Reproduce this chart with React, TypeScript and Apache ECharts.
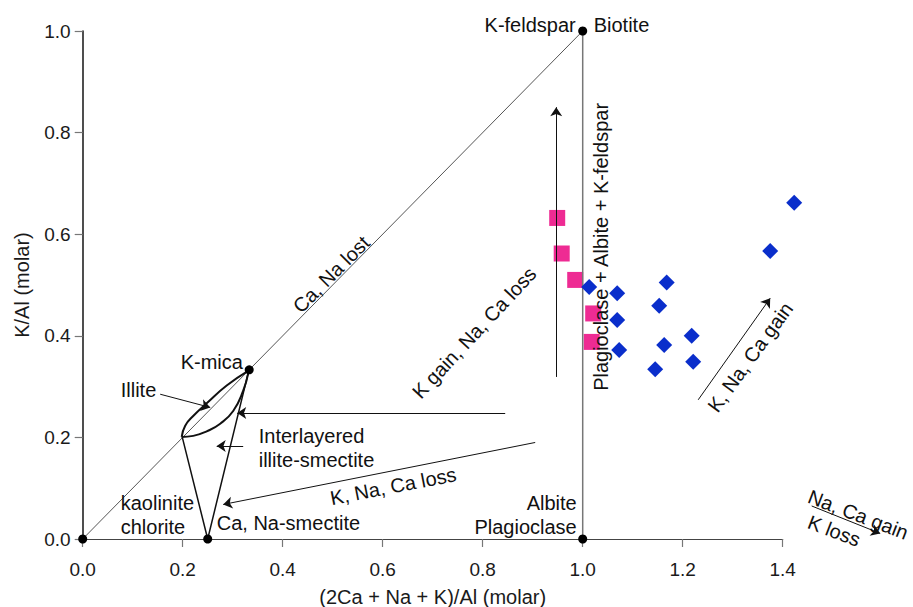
import React, { useEffect, useRef } from "react";
import * as echarts from "echarts";

// ---------- data ----------
const xAxisName = "(2Ca + Na + K)/Al (molar)";
const yAxisName = "K/Al (molar)";
const xTickStep = 0.2;
const yTickStep = 0.2;

// samples (pink squares)
const pinkX = [0.949, 0.958, 0.985, 1.021, 1.018];
const pinkY = [0.632, 0.562, 0.51, 0.444, 0.388];

// samples (blue diamonds)
const blueX = [1.423, 1.375, 1.013, 1.069, 1.168, 1.153, 1.069, 1.218, 1.163, 1.073, 1.221, 1.145];
const blueY = [0.662, 0.567, 0.496, 0.484, 0.505, 0.459, 0.431, 0.4, 0.382, 0.372, 0.349, 0.334];

// mineral end-members (black dots)
const mineralX = [0, 0.25, 1, 1, 0.333];
const mineralY = [0, 0, 0, 1, 0.333];

// reference lines
const diagonalX = [0, 1];
const diagonalY = [0, 1];
const boundaryX = [1, 1];
const boundaryY = [0, 1];
const triangleX = [0.199, 0.25, 0.332];
const triangleY = [0.201, 0, 0.331];
const lensUpperX = [0.198, 0.205, 0.221, 0.248, 0.288, 0.331];
const lensUpperY = [0.201, 0.223, 0.242, 0.267, 0.302, 0.331];
const lensLowerX = [0.198, 0.221, 0.248, 0.275, 0.301, 0.321, 0.331];
const lensLowerY = [0.201, 0.203, 0.212, 0.227, 0.252, 0.292, 0.326];

// arrows (from -> to)
const arrowFromX = [0.947, 0.845, 0.905, 0.321, 0.155, 1.231, 1.458];
const arrowFromY = [0.319, 0.248, 0.19, 0.183, 0.285, 0.274, 0.065];
const arrowToX = [0.947, 0.309, 0.281, 0.268, 0.255, 1.375, 1.595];
const arrowToY = [0.85, 0.248, 0.068, 0.183, 0.259, 0.474, 0.011];

// annotations
const annoText = [
  "K-feldspar", "Biotite", "Ca, Na lost", "Plagioclase + Albite + K-feldspar",
  "K gain, Na, Ca loss", "Illite", "K-mica", "Interlayered", "illite-smectite",
  "kaolinite", "chlorite", "Ca, Na-smectite", "K, Na, Ca loss", "Albite",
  "Plagioclase", "K, Na, Ca gain", "Na, Ca gain", "K loss",
];
const annoX = [0.987, 1.021, 0.497, 1.036, 0.783, 0.075, 0.195, 0.351, 0.351, 0.075, 0.075, 0.267, 0.621, 0.989, 0.989, 1.335, 1.551, 1.503];
const annoY = [1.012, 1.012, 0.521, 0.575, 0.406, 0.293, 0.349, 0.203, 0.156, 0.071, 0.024, 0.031, 0.104, 0.071, 0.024, 0.358, 0.048, 0.016];
const annoRotate = [0, 0, 45, 90, 47, 0, 0, 0, 0, 0, 0, 0, 11, 0, 0, 54, -21, -21];
const annoAnchor = ["left", "right", "inside", "inside", "inside", "right", "right", "right", "right", "right", "right", "right", "inside", "left", "left", "inside", "inside", "inside"];

const FONT = "'Liberation Sans', Arial, Helvetica, sans-serif";

const zip = (xs: number[], ys: number[]) => xs.map((x, i) => [x, ys[i]]);

export default function App() {
  const ref = useRef<HTMLDivElement>(null);
  useEffect(() => {
    if (!ref.current) return;
    const chart = echarts.init(ref.current, undefined, { renderer: "svg" });

    const lineBase = {
      type: "line" as const,
      showSymbol: false,
      symbol: "none",
      silent: true,
      clip: false,
    };

    const option: any = {
      animation: false,
      backgroundColor: "#ffffff",
      textStyle: { fontFamily: FONT },
      grid: { left: 82.7, top: 31, right: 130.3, bottom: 68, containLabel: false, outerBoundsMode: "none" },
      xAxis: {
        type: "value",
        min: 0,
        max: 1.4,
        interval: xTickStep,
        name: xAxisName,
        nameLocation: "middle",
        nameGap: 48,
        nameTextStyle: { fontSize: 20, color: "#1a1a1a", fontFamily: FONT },
        axisLine: { lineStyle: { color: "#444", width: 1.2 } },
        axisTick: { show: true, inside: false, length: 8, lineStyle: { color: "#777", width: 1.2 } },
        axisLabel: { fontSize: 19, color: "#1a1a1a", margin: 21, fontFamily: FONT, formatter: (v: number) => v.toFixed(1) },
        splitLine: { show: false },
      },
      yAxis: {
        type: "value",
        min: 0,
        max: 1.0,
        interval: yTickStep,
        name: yAxisName,
        nameLocation: "middle",
        nameGap: 51,
        nameTextStyle: { fontSize: 20, color: "#1a1a1a", fontFamily: FONT },
        axisLine: { lineStyle: { color: "#222", width: 1.6 } },
        axisTick: { show: true, inside: false, length: 8, lineStyle: { color: "#777", width: 1.2 } },
        axisLabel: { fontSize: 19, color: "#1a1a1a", margin: 12, fontFamily: FONT, formatter: (v: number) => v.toFixed(1) },
        splitLine: { show: false },
      },
      series: [
        {
          type: "scatter",
          symbol: "rect",
          symbolSize: 16,
          itemStyle: { color: "#EE2B93", opacity: 1 },
          data: zip(pinkX, pinkY),
          z: 1,
          silent: true,
          clip: false,
        },
        {
          ...lineBase,
          data: zip(diagonalX, diagonalY),
          lineStyle: { color: "#555", width: 1 },
          z: 2,
        },
        {
          ...lineBase,
          data: zip(boundaryX, boundaryY),
          lineStyle: { color: "#777", width: 1.5 },
          z: 2,
        },
        {
          ...lineBase,
          data: zip(triangleX, triangleY),
          lineStyle: { color: "#111", width: 1.5 },
          z: 2,
        },
        {
          ...lineBase,
          smooth: true,
          data: zip(lensUpperX, lensUpperY),
          lineStyle: { color: "#111", width: 2 },
          z: 2,
        },
        {
          ...lineBase,
          smooth: true,
          data: zip(lensLowerX, lensLowerY),
          lineStyle: { color: "#111", width: 2 },
          z: 2,
        },
        {
          type: "lines",
          coordinateSystem: "cartesian2d",
          symbol: ["none", "arrow"],
          symbolSize: 9,
          silent: true,
          clip: false,
          z: 2,
          lineStyle: { color: "#111", width: 1, opacity: 1, curveness: 0 },
          data: arrowFromX.map((x, i) => ({
            coords: [
              [x, arrowFromY[i]],
              [arrowToX[i], arrowToY[i]],
            ],
          })),
        },
        {
          type: "scatter",
          symbol: "diamond",
          symbolSize: 16,
          itemStyle: { color: "#0A2ECB", opacity: 1 },
          data: zip(blueX, blueY),
          z: 3,
          silent: true,
          clip: false,
        },
        {
          type: "scatter",
          symbol: "circle",
          symbolSize: 9,
          itemStyle: { color: "#000", opacity: 1 },
          data: zip(mineralX, mineralY),
          z: 4,
          silent: true,
          clip: false,
        },
        {
          type: "scatter",
          symbolSize: 1,
          itemStyle: { color: "rgba(0,0,0,0)", opacity: 1 },
          silent: true,
          clip: false,
          z: 5,
          data: annoText.map((t, i) => ({
            value: [annoX[i], annoY[i]],
            label: {
              show: true,
              formatter: t,
              position: annoAnchor[i],
              distance: 0,
              rotate: annoRotate[i],
              fontSize: 20,
              color: "#111",
              fontFamily: FONT,
            },
          })),
        },
      ],
    };
    chart.setOption(option);
    return () => chart.dispose();
  }, []);
  return (
    <div
      ref={ref}
      style={{ position: "absolute", left: 0, top: 0, width: 913, height: 607, background: "#fff" }}
    />
  );
}
